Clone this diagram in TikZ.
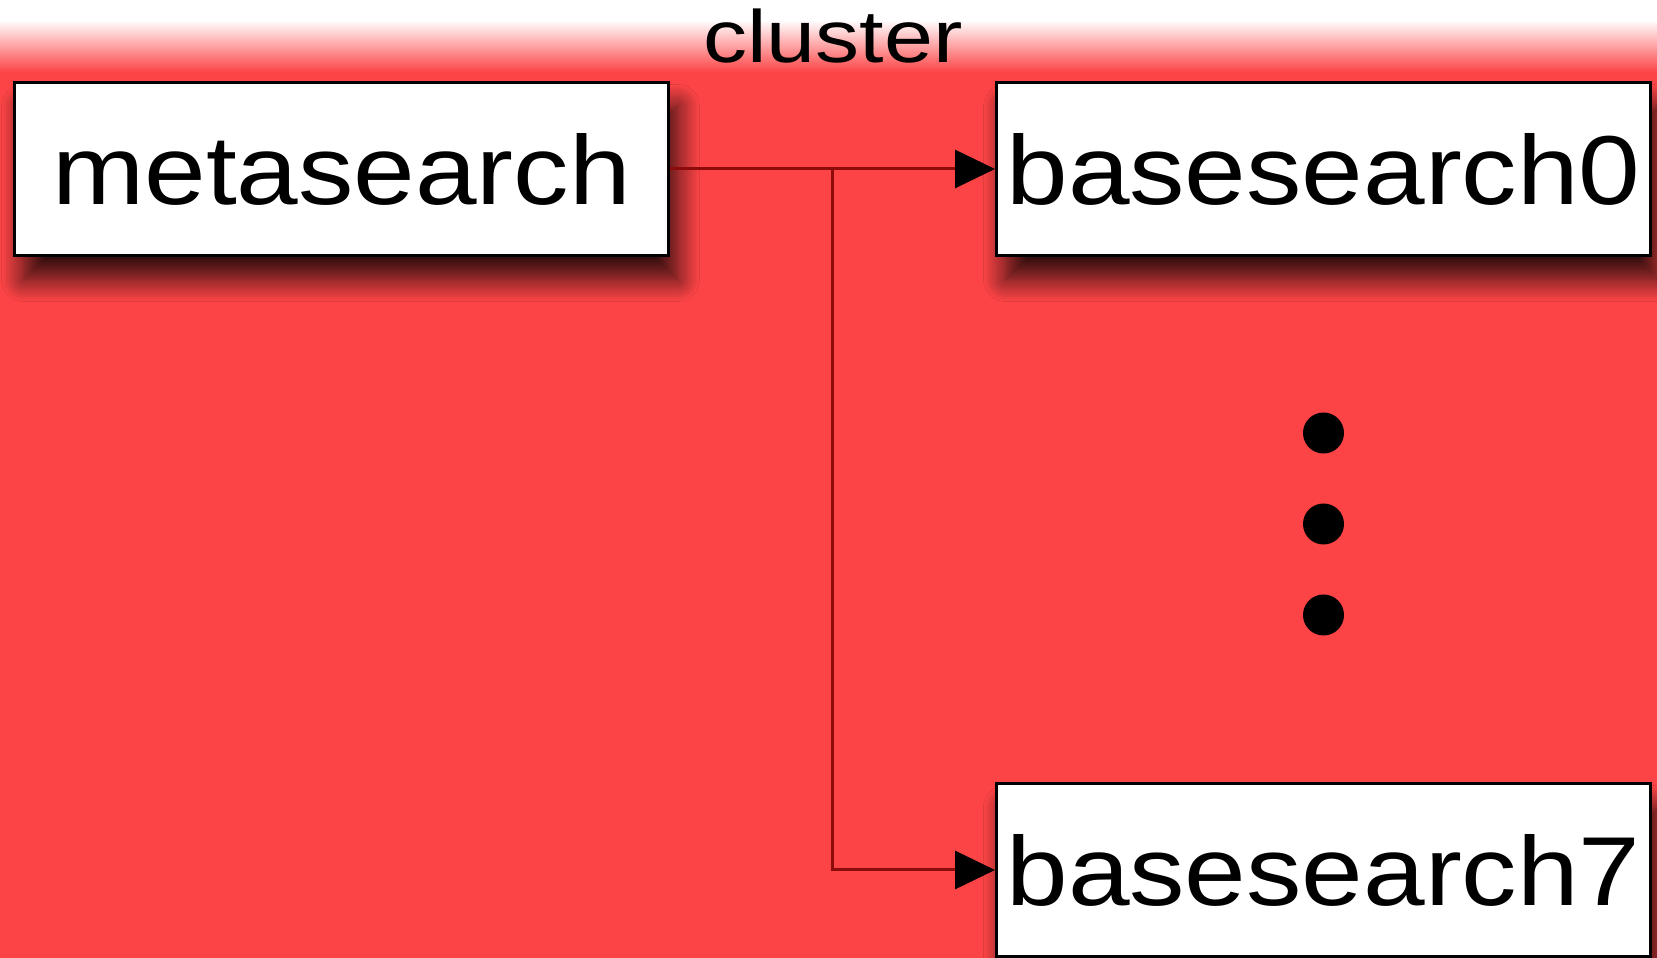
\documentclass[tikz,border=0pt]{standalone}
\usepackage{fontspec}
\setmainfont{Liberation Sans}
\newfontfamily\boxfont[FakeStretch=1.13]{Liberation Sans}
\newfontfamily\labelfont[FakeStretch=1.19]{Liberation Sans}
\usepackage{tikz}
\usetikzlibrary{arrows.meta,positioning,calc,shadows.blur}
\definecolor{clusterred}{RGB}{252,68,70}
\definecolor{edgered}{RGB}{140,12,12}

\begin{document}
\begin{tikzpicture}[x=1pt,y=1pt,>={Triangle[length=40pt,width=38pt,black]},line width=3pt,node distance=325pt]
        \tikzstyle{every node}=[inner sep=0pt]
        \tikzstyle{search}=[draw=black,fill=white,minimum width=654pt,minimum height=173pt,
            font=\boxfont\fontsize{98}{98}\selectfont,
            blur shadow={shadow xshift=9pt,shadow yshift=-24pt,shadow blur radius=22pt,shadow blur steps=16,shadow opacity=80}]
        \tikzstyle{dot}=[circle,fill=black,minimum size=41pt]
        \useasboundingbox (0,0) rectangle (1657,958);
        \fill[white] (0,0) rectangle (1657,958);
        \fill[clusterred] (0,0) rectangle (1657,886);
        \shade[top color=white,bottom color=clusterred] (0,938) rectangle (1657,886);
        \node[font=\labelfont\fontsize{74}{74}\selectfont,anchor=base] (cluster) at (833,895) {cluster};
        \node[search]                   (meta)  at (341.5,789)      {metasearch};
        \node[search]                   (bs0)   [right=of meta]     {basesearch0};
        \node[search]                   (bs7)   [below=525pt of bs0] {basesearch7};
        \node[dot]                      (dot1)  at (bs0.center |- 0,525) {};
        \node[dot]                      (dot2)  [below=47pt of dot1] {};
        \node[dot]                      (dot3)  [below=47pt of dot2] {};
        \coordinate (split) at ($(meta.east)!0.5!(bs0.west)$);
        \draw[->,edgered] (meta.east) -- (bs0.west);
        \draw[->,edgered] (split) |- (bs7.west);
    \end{tikzpicture}
\end{document}
